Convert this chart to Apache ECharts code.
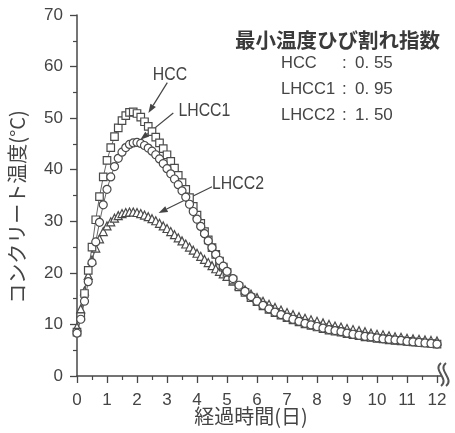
<!DOCTYPE html>
<html>
<head>
<meta charset="utf-8">
<script src="https://cdn.jsdelivr.net/npm/echarts@6/dist/echarts.min.js"></script>
<style>
  html, body { margin: 0; padding: 0; background: #fff; }
  #chart { width: 455px; height: 433px; }
</style>
</head>
<body>
<div id="chart"></div>
<script>
// Elapsed time (days): 3-hour steps up to day 5, then 0.2-day steps
const days = [
  0, 0.125, 0.25, 0.375, 0.5, 0.625, 0.75, 0.875, 1, 1.125, 1.25, 1.375, 1.5, 1.625, 1.75, 1.875,
  2, 2.125, 2.25, 2.375, 2.5, 2.625, 2.75, 2.875, 3, 3.125, 3.25, 3.375, 3.5, 3.625, 3.75, 3.875,
  4, 4.125, 4.25, 4.375, 4.5, 4.625, 4.75, 4.875, 5,
  5.2, 5.4, 5.6, 5.8, 6, 6.2, 6.4, 6.6, 6.8, 7, 7.2, 7.4, 7.6, 7.8, 8, 8.2, 8.4, 8.6, 8.8, 9,
  9.2, 9.4, 9.6, 9.8, 10, 10.2, 10.4, 10.6, 10.8, 11, 11.2, 11.4, 11.6, 11.8, 12
];

// Concrete temperature (°C)
const hcc = [
  8.5, 11.5, 16.0, 20.5, 25.0, 30.3, 34.8, 38.6, 41.8, 44.3, 46.4, 48.1, 49.5, 50.5, 51.1, 51.2,
  50.9, 50.2, 49.3, 48.4, 47.4, 46.3, 45.2, 44.1, 42.9, 41.6, 40.3, 38.9, 37.5, 36.2, 34.6, 32.9,
  31.2, 29.6, 28.0, 26.4, 24.9, 23.6, 22.3, 21.1, 20.1,
  18.6, 17.3, 16.2, 15.2, 14.4, 13.6, 12.9, 12.3, 11.8, 11.3, 10.9, 10.5, 10.1, 9.8, 9.5, 9.2,
  8.9, 8.7, 8.5, 8.2, 8.0, 7.8, 7.6, 7.5, 7.3, 7.2, 7.0, 6.9, 6.8, 6.7, 6.6, 6.5, 6.4, 6.3, 6.2
];
const lhcc1 = [
  8.3, 11.0, 14.5, 18.3, 22.0, 26.0, 29.8, 33.2, 36.2, 38.6, 40.6, 42.2, 43.4, 44.3, 44.9, 45.2,
  45.3, 45.1, 44.7, 44.2, 43.6, 42.9, 42.1, 41.2, 40.2, 39.2, 38.2, 37.1, 35.9, 34.7, 33.3, 31.9,
  30.4, 29.0, 27.6, 26.2, 24.9, 23.6, 22.4, 21.3, 20.3,
  18.9, 17.6, 16.4, 15.4, 14.5, 13.7, 13.0, 12.4, 11.9, 11.4, 11.0, 10.6, 10.2, 9.9, 9.6, 9.3,
  9.0, 8.8, 8.6, 8.3, 8.1, 7.9, 7.7, 7.6, 7.4, 7.2, 7.1, 7.0, 6.9, 6.7, 6.6, 6.5, 6.4, 6.3, 6.2
];
const lhcc2 = [
  9.5, 13.0, 16.5, 19.5, 22.5, 24.8, 26.6, 28.0, 29.1, 29.9, 30.6, 31.1, 31.5, 31.7, 31.8, 31.8,
  31.7, 31.5, 31.2, 30.9, 30.5, 30.1, 29.6, 29.1, 28.6, 28.0, 27.4, 26.8, 26.2, 25.6, 25.0, 24.4,
  23.8, 23.2, 22.6, 22.0, 21.4, 20.8, 20.3, 19.8, 19.3,
  18.4, 17.5, 16.7, 15.9, 15.2, 14.5, 13.9, 13.3, 12.8, 12.3, 11.9, 11.5, 11.2, 10.9, 10.6, 10.3,
  10.0, 9.7, 9.5, 9.2, 9.0, 8.8, 8.6, 8.3, 8.1, 8.0, 7.8, 7.6, 7.5, 7.3, 7.2, 7.1, 7.0, 6.9, 6.8
];

const seriesNames = ['HCC', 'LHCC1', 'LHCC2'];
const crackIndex = ['0. 55', '0. 95', '1. 50'];
const legendTitle = '最小温度ひび割れ指数';
const xTitle = '経過時間(日)';
const yTitle = 'コンクリート温度(°C)';

// Callout labels: [label, text anchor (day, °C), arrow tail, arrow head]
const callouts = [
  ['HCC',   [3.1, 58.3],  [3.01, 56.9], [2.38, 51.0]],
  ['LHCC1', [3.38, 51.3], [3.21, 51.0], [2.11, 45.8]],
  ['LHCC2', [4.5, 37.2],  [4.5, 36.7],  [2.72, 31.6]]
];

const ink = '#474747';
const numFont = '"Liberation Sans", Arial, sans-serif';
const jpFont = '"Noto Sans CJK JP", "Noto Sans", sans-serif';

function pairs(ys) { return days.map((d, i) => [d, ys[i]]); }

function mkSeries(name, ys, symbol, size) {
  return {
    name, type: 'line', data: pairs(ys), symbol, symbolSize: size, showAllSymbol: true,
    lineStyle: { color: '#666', width: 1 },
    itemStyle: { color: '#fff', borderColor: '#4a4a4a', borderWidth: 1.2 },
    emphasis: { disabled: true }, animation: false
  };
}

const chart = echarts.init(document.getElementById('chart'), null, { renderer: 'canvas' });

const axisCommon = {
  axisLine: { show: true, lineStyle: { color: ink, width: 1.5 } },
  axisTick: { show: true, inside: false, length: 7, lineStyle: { color: ink, width: 1.3 } },
  minorTick: { show: true, splitNumber: 2, length: 4, lineStyle: { color: ink, width: 1.2 } },
  splitLine: { show: false },
  axisLabel: { color: '#444', fontSize: 17, fontFamily: numFont }
};

chart.setOption({
  animation: false,
  backgroundColor: '#fff',
  grid: { left: 77, right: 18, top: 15, bottom: 57 },
  xAxis: Object.assign({}, axisCommon, {
    type: 'value', min: 0, max: 12, interval: 1,
    axisLabel: Object.assign({}, axisCommon.axisLabel, { margin: 16 })
  }),
  yAxis: Object.assign({}, axisCommon, {
    type: 'value', min: 0, max: 70, interval: 10,
    axisLabel: Object.assign({}, axisCommon.axisLabel, { margin: 14 })
  }),
  series: [
    mkSeries(seriesNames[2], lhcc2, 'triangle', 8),
    mkSeries(seriesNames[0], hcc, 'rect', 7.5),
    mkSeries(seriesNames[1], lhcc1, 'circle', 8)
  ]
});

// Callout arrows, index table, axis titles and axis break mark
const px = (p) => chart.convertToPixel({ gridIndex: 0 }, p);
const graphics = [];

callouts.forEach(([label, at, tail, head]) => {
  const t = px(at), a = px(tail), b = px(head);
  graphics.push({
    type: 'text', x: t[0], y: t[1], scaleX: 0.88,
    style: { text: label, font: '18px ' + numFont, fill: '#444',
             textAlign: label === 'HCC' ? 'center' : 'left', textVerticalAlign: 'middle' }
  });
  const ang = Math.atan2(b[1] - a[1], b[0] - a[0]);
  const L = 9, W = 3.2;
  const bx = b[0] - L * Math.cos(ang), by = b[1] - L * Math.sin(ang);
  graphics.push({
    type: 'line', shape: { x1: a[0], y1: a[1], x2: bx, y2: by },
    style: { stroke: '#444', lineWidth: 1.2 }
  });
  graphics.push({
    type: 'polygon',
    shape: { points: [
      [b[0], b[1]],
      [bx + W * Math.sin(ang), by - W * Math.cos(ang)],
      [bx - W * Math.sin(ang), by + W * Math.cos(ang)]
    ] },
    style: { fill: '#444' }
  });
});

graphics.push({
  type: 'text', x: 235, y: 40,
  style: { text: legendTitle, font: 'bold 20.5px ' + jpFont, fill: '#3a3a3a', textVerticalAlign: 'middle' }
});
seriesNames.forEach((n, i) => {
  const y = 63 + i * 26;
  graphics.push({ type: 'text', x: 281, y, style: { text: n, font: '16.5px ' + numFont, fill: '#444', textVerticalAlign: 'middle' } });
  graphics.push({ type: 'text', x: 342, y, style: { text: ':', font: '17px ' + numFont, fill: '#444', textVerticalAlign: 'middle' } });
  graphics.push({ type: 'text', x: 355, y, style: { text: crackIndex[i], font: '17px ' + numFont, fill: '#444', textVerticalAlign: 'middle' } });
});

graphics.push({
  type: 'text', x: 251, y: 416,
  style: { text: xTitle, font: '20px ' + jpFont, fill: '#444', textAlign: 'center', textVerticalAlign: 'middle' }
});
graphics.push({
  type: 'text', x: 17, y: 207, rotation: Math.PI / 2,
  style: { text: yTitle, font: '20px ' + jpFont, fill: '#444', textAlign: 'center', textVerticalAlign: 'middle' }
});

// axis break at the right end of the time axis
const end = px([12, 0]);
graphics.push({ type: 'line', shape: { x1: end[0], y1: end[1], x2: end[0] + 4, y2: end[1] }, style: { stroke: ink, lineWidth: 1.5 } });
[0, 5].forEach((dx) => {
  const x0 = end[0] + 4 + dx;
  graphics.push({
    type: 'bezierCurve',
    shape: { x1: x0, y1: end[1] - 13, x2: x0, y2: end[1] + 10,
             cpx1: x0 - 9, cpy1: end[1] - 6, cpx2: x0 + 9, cpy2: end[1] + 3 },
    style: { stroke: '#555', lineWidth: 2, fill: null }
  });
});

chart.setOption({ graphic: graphics });
</script>
</body>
</html>
